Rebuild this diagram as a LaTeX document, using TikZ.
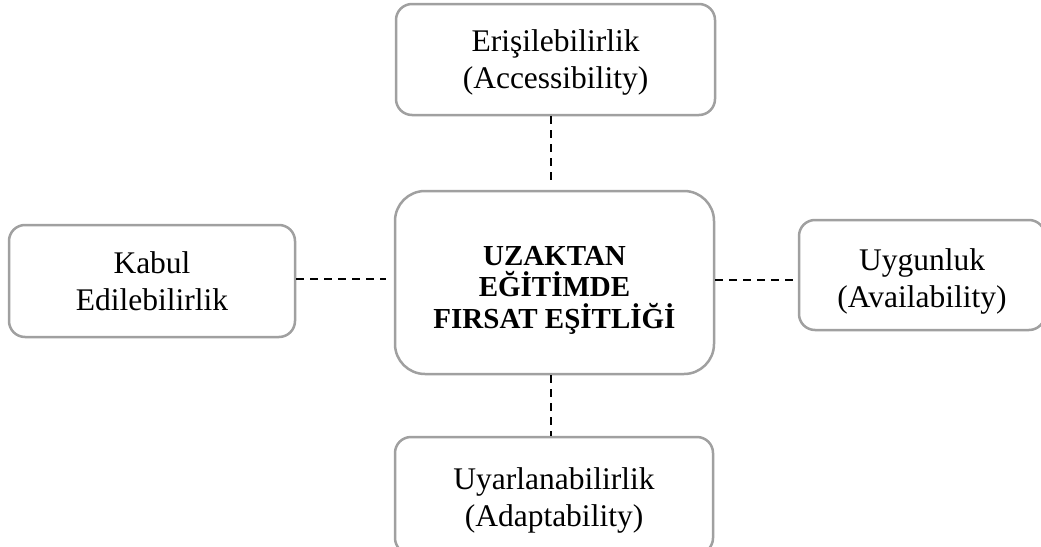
\documentclass[tikz,border=0pt]{standalone}
\usepackage{fontspec}
\setmainfont{Liberation Serif}
\definecolor{boxgray}{RGB}{160,160,160}
\tikzset{
  pill/.style={draw=boxgray, line width=2.5pt, fill=white, rectangle, inner sep=0pt},
  pilltext/.style={align=center, inner sep=0pt, font=\fontsize{31.5}{37}\selectfont},
  hubtext/.style={align=center, inner sep=0pt, font=\fontsize{29}{31.5}\selectfont\bfseries},
  dashline/.style={draw=black, line width=1.8pt, dash pattern=on 8pt off 6pt}
}
\begin{document}
\begin{tikzpicture}[x=1pt,y=-1pt]
\useasboundingbox (0,0) rectangle (1041,546);
\clip (0,0) rectangle (1041,546);
\node[pill, rounded corners=16pt, minimum width=319pt, minimum height=111pt,
  label={[pilltext, yshift=-3pt]center:{Erişilebilirlik\\(Accessibility)}}] (top) at (555.5,59.5) {};
\node[pill, rounded corners=30pt, minimum width=319pt, minimum height=183pt,
  label={[hubtext, yshift=-7.5pt]center:{UZAKTAN\\EĞİTİMDE\\FIRSAT EŞİTLİĞİ}}] (center) at (554.5,282.5) {};
\node[pill, rounded corners=16pt, minimum width=286pt, minimum height=112pt,
  label={[pilltext, yshift=0pt]center:{Kabul\\Edilebilirlik}}] (left) at (152,281) {};
\node[pill, rounded corners=16pt, minimum width=246pt, minimum height=110pt,
  label={[pilltext, yshift=-6pt]center:{Uygunluk\\(Availability)}}] (right) at (922,275) {};
\node[pill, rounded corners=16pt, minimum width=318pt, minimum height=117pt,
  label={[pilltext, yshift=-5pt]center:{Uyarlanabilirlik\\(Adaptability)}}] (bottom) at (554,495.5) {};
\coordinate (tend) at (551,180);
\coordinate (lend) at (386,279);
\coordinate (ry) at (760,280);
\coordinate (bx) at (551,400);
\draw[dashline] (top.south -| tend) -- (tend);
\draw[dashline] (left.east |- lend) -- (lend);
\draw[dashline] (center.east |- ry) -- (right.west |- ry);
\draw[dashline] (center.south -| bx) -- (bottom.north -| bx);
\end{tikzpicture}
\end{document}
